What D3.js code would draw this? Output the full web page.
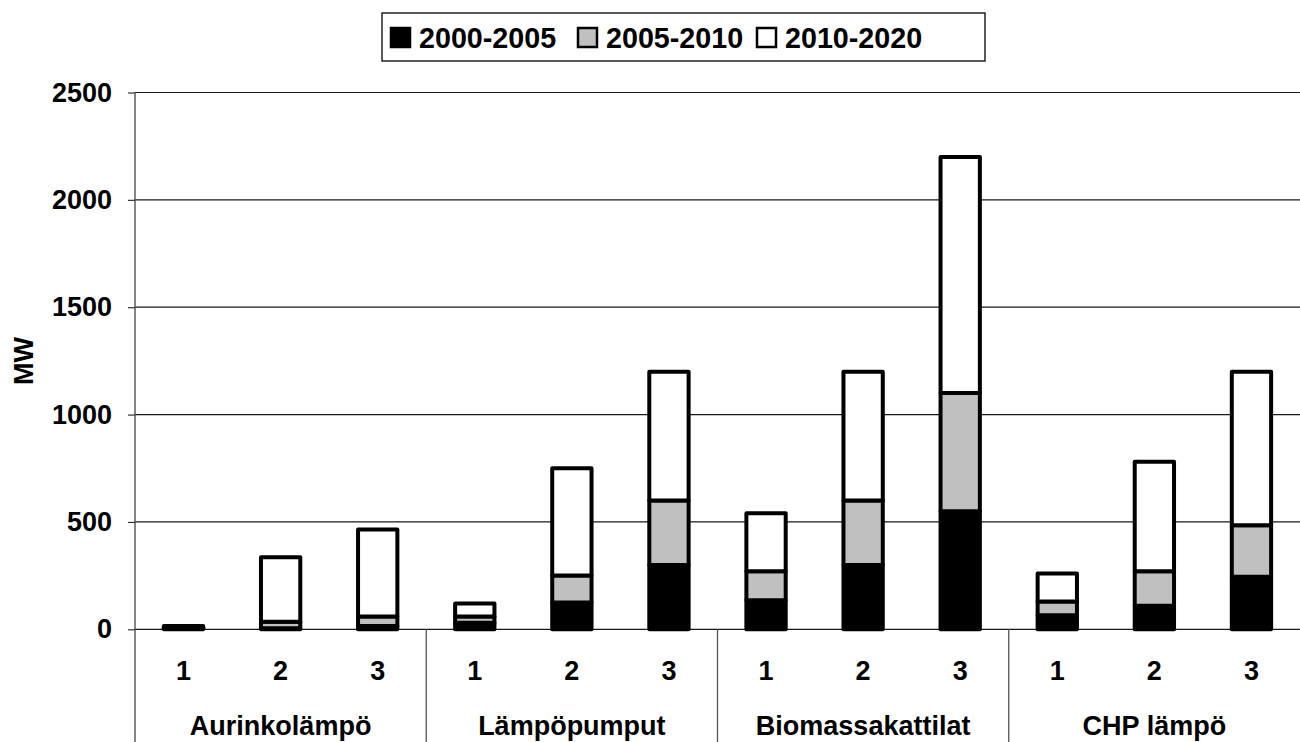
<!DOCTYPE html>
<html>
<head>
<meta charset="utf-8">
<script src="https://cdn.jsdelivr.net/npm/d3@7"></script>
<style>
  html, body { margin: 0; padding: 0; background: #fff; }
  svg { display: block; }
  text { font-family: "Liberation Sans", Arial, sans-serif; font-weight: bold; fill: #000; }
</style>
</head>
<body>
<svg id="chart" width="1300" height="742"></svg>
<script>
// Technology groups and the three scenarios shown under each group
const groups = ["Aurinkolämpö", "Lämpöpumput", "Biomassakattilat", "CHP lämpö"];
const scenarios = ["1", "2", "3"];

// Period series (MW), one value per group/scenario in reading order
const seriesNames = ["2000-2005", "2005-2010", "2010-2020"];
const period2000_2005 = [5, 5, 15, 30, 125, 300, 135, 300, 550, 65, 110, 245];
const period2005_2010 = [5, 30, 45, 30, 125, 300, 135, 300, 550, 65, 160, 240];
const period2010_2020 = [5, 300, 405, 60, 500, 600, 270, 600, 1100, 130, 510, 715];

const yTicks = [0, 500, 1000, 1500, 2000, 2500];
const yLabel = "MW";

const fills = ["#000000", "#c0c0c0", "#ffffff"];

// Build table rows for stacking
const rows = [];
groups.forEach((g, gi) => {
  scenarios.forEach((s, si) => {
    const i = gi * scenarios.length + si;
    rows.push({
      key: g + "|" + s,
      group: g,
      scenario: s,
      [seriesNames[0]]: period2000_2005[i],
      [seriesNames[1]]: period2005_2010[i],
      [seriesNames[2]]: period2010_2020[i]
    });
  });
});

const svg = d3.select("#chart");
const plotLeft = 135, plotRight = 1300, plotTop = 92.5, plotBase = 629.3, plotBottom = 742;

const x = d3.scaleBand()
  .domain(rows.map(d => d.key))
  .range([plotLeft, plotRight])
  .paddingInner(0.595)
  .paddingOuter(0.2975);
const step = x.step();

const y = d3.scaleLinear().domain([0, 2500]).range([plotBase, plotTop]);

// Horizontal gridlines
svg.append("g")
  .selectAll("line")
  .data(yTicks)
  .join("line")
  .attr("x1", plotLeft).attr("x2", plotRight)
  .attr("y1", d => y(d)).attr("y2", d => y(d))
  .attr("stroke", "#1a1a1a")
  .attr("stroke-width", 1.2);

// Y axis with outside tick marks
const yAxis = d3.axisLeft(y).tickValues(yTicks).tickSize(7).tickPadding(16).tickFormat(d3.format("d"));
const yg = svg.append("g").attr("transform", `translate(${plotLeft},0)`).call(yAxis);
yg.select(".domain").remove();
yg.selectAll(".tick line").attr("stroke", "#333").attr("stroke-width", 1.2);
yg.selectAll(".tick text")
  .attr("font-size", 27)
  .attr("font-family", "'Liberation Sans', Arial, sans-serif")
  .attr("font-weight", "bold")
  .attr("fill", "#000");

// Vertical axis line continuing down through the category area
svg.append("line")
  .attr("x1", plotLeft).attr("x2", plotLeft)
  .attr("y1", plotTop).attr("y2", plotBottom)
  .attr("stroke", "#444").attr("stroke-width", 1.3);

// Group separators below the baseline
svg.append("g")
  .selectAll("line")
  .data(groups.slice(1).map((g, gi) => (gi + 1) * scenarios.length))
  .join("line")
  .attr("x1", i => plotLeft + step * i).attr("x2", i => plotLeft + step * i)
  .attr("y1", plotBase).attr("y2", plotBottom)
  .attr("stroke", "#555").attr("stroke-width", 1.3);

// Stacked bars
const stack = d3.stack().keys(seriesNames);
const layers = stack(rows);
svg.append("g")
  .selectAll("g")
  .data(layers)
  .join("g")
  .attr("fill", (d, i) => fills[i])
  .selectAll("rect")
  .data(d => d)
  .join("rect")
  .attr("x", d => x(d.data.key))
  .attr("width", x.bandwidth())
  .attr("y", d => y(d[1]))
  .attr("height", d => y(d[0]) - y(d[1]))
  .attr("stroke", "#000")
  .attr("stroke-width", 4)
  .attr("stroke-linejoin", "round");

// Scenario numbers
svg.append("g")
  .selectAll("text")
  .data(rows)
  .join("text")
  .attr("x", d => x(d.key) + x.bandwidth() / 2)
  .attr("y", 680)
  .attr("text-anchor", "middle")
  .attr("font-size", 27)
  .text(d => d.scenario);

// Group names
svg.append("g")
  .selectAll("text")
  .data(groups)
  .join("text")
  .attr("x", (g, gi) => plotLeft + step * scenarios.length * (gi + 0.5))
  .attr("y", 735)
  .attr("text-anchor", "middle")
  .attr("font-size", 27)
  .text(g => g);

// Axis title
svg.append("text")
  .attr("transform", `translate(33, ${(plotTop + plotBase) / 2}) rotate(-90)`)
  .attr("text-anchor", "middle")
  .attr("font-size", 27)
  .text(yLabel);

// Legend
const legend = svg.append("g");
legend.append("rect")
  .attr("x", 382).attr("y", 13)
  .attr("width", 603).attr("height", 48)
  .attr("fill", "#fff").attr("stroke", "#000").attr("stroke-width", 1.3);

const legendX = [391, 578, 757];
const items = legend.selectAll("g.item")
  .data(seriesNames)
  .join("g")
  .attr("class", "item")
  .attr("transform", (d, i) => `translate(${legendX[i]},0)`);
items.append("rect")
  .attr("x", 0).attr("y", 28)
  .attr("width", 19).attr("height", 19)
  .attr("fill", (d, i) => fills[i])
  .attr("stroke", "#000").attr("stroke-width", 2.5);
items.append("text")
  .attr("x", 28).attr("y", 48)
  .attr("font-size", 28.7)
  .text(d => d);
</script>
</body>
</html>
